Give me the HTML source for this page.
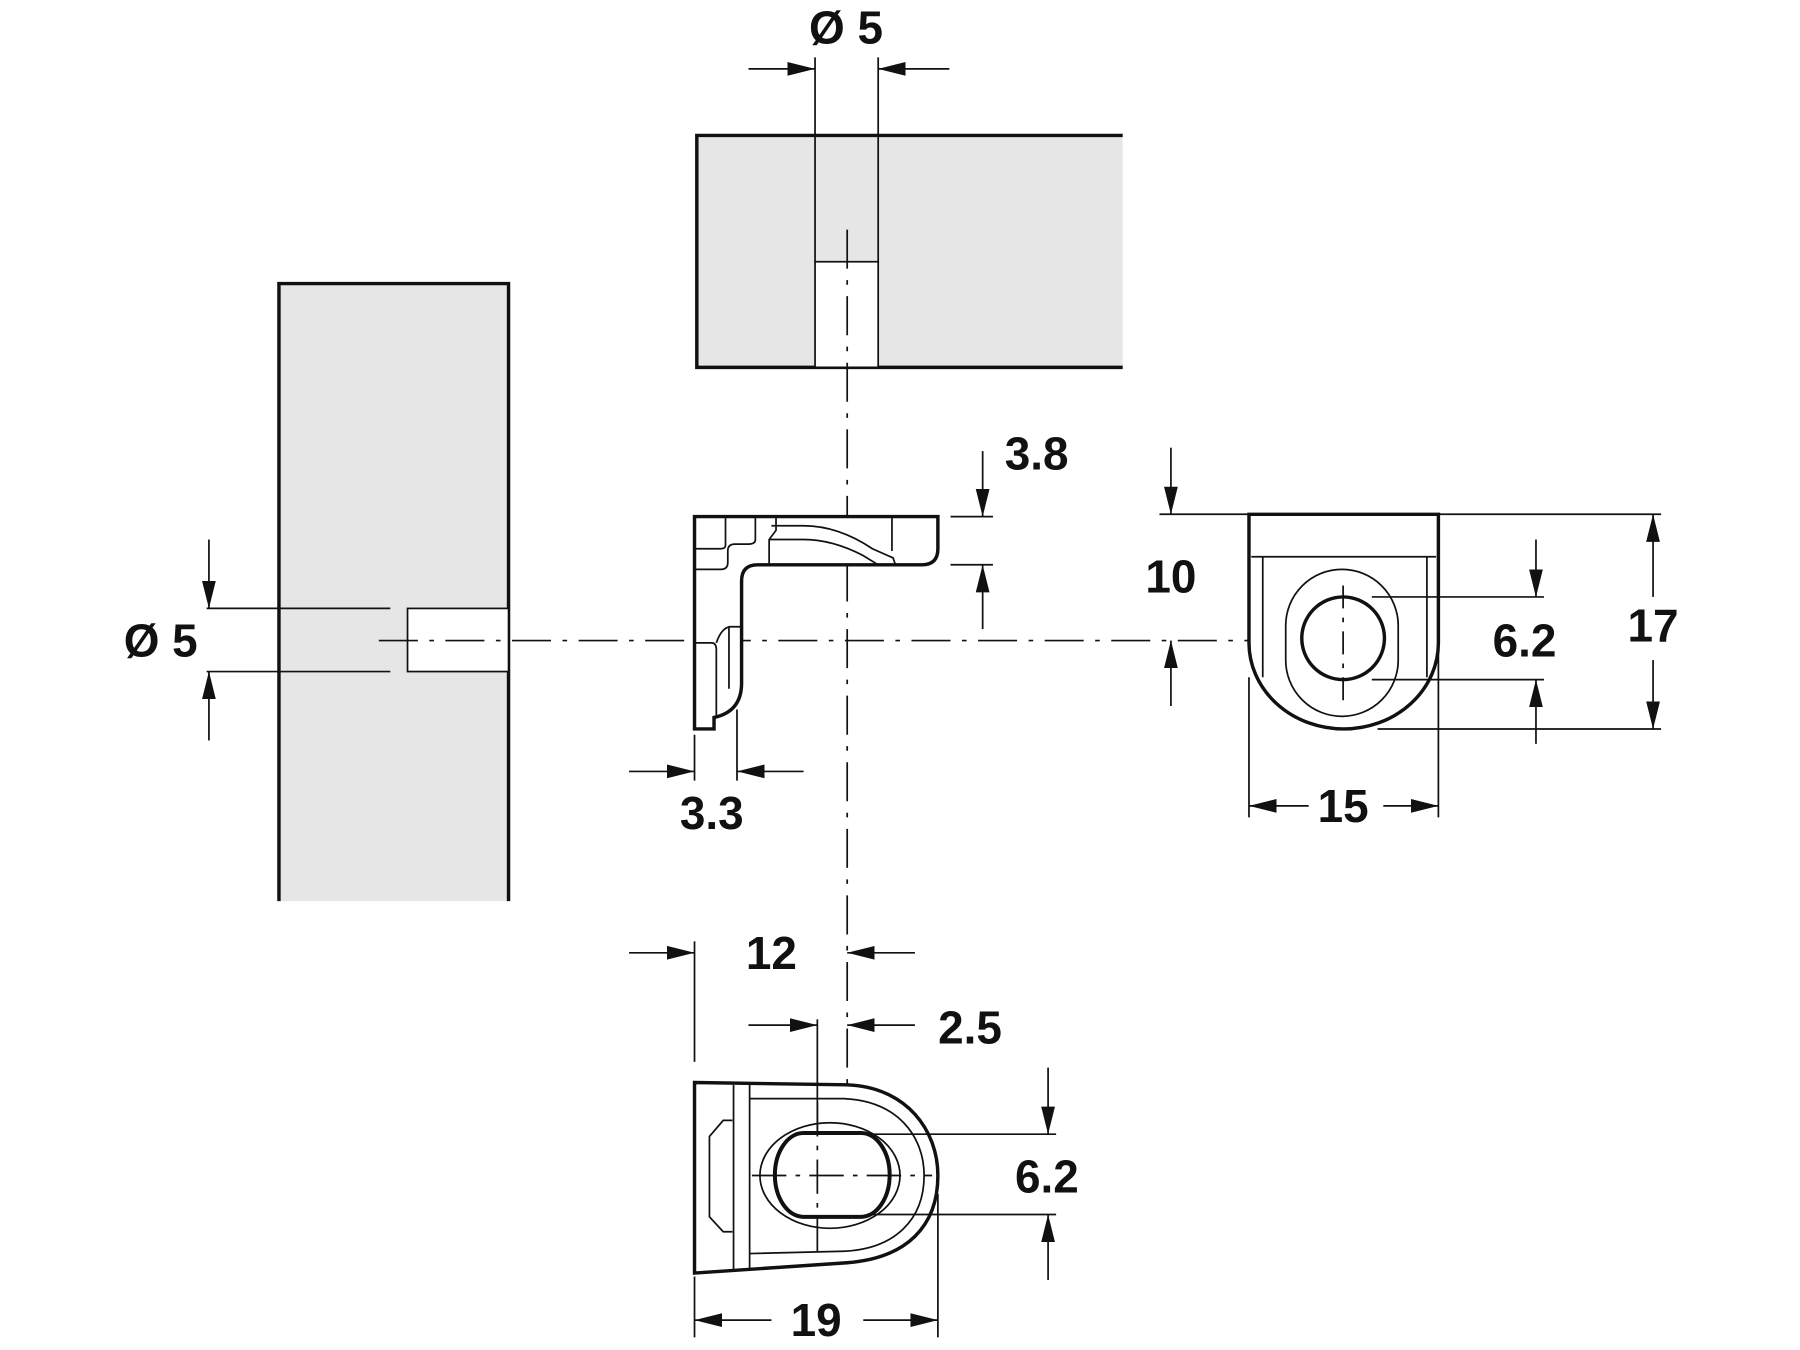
<!DOCTYPE html>
<html><head><meta charset="utf-8"><style>
html,body{margin:0;padding:0;background:#fff}
svg{display:block}
text{font-family:"Liberation Sans",Arial,sans-serif;font-weight:bold;font-size:40px;fill:#111}
</style></head><body>
<svg width="1800" height="1350" viewBox="0 0 1568 1176" xmlns="http://www.w3.org/2000/svg">
<defs>
<marker id="a" viewBox="0 0 24 16" refX="24" refY="8" markerWidth="24" markerHeight="16" markerUnits="userSpaceOnUse" orient="auto">
<path d="M0,2 L24,8 L0,14 Z" fill="#111"/></marker>
</defs>
<g stroke="#111" fill="none">
<!-- left panel -->
<rect x="243" y="247" width="200" height="538" fill="#e6e6e6" stroke="none"/>
<path d="M243,785 V247 H443 V785" stroke-width="3"/>
<rect x="355" y="530" width="88" height="55" fill="#fff" stroke-width="1.5"/>
<path d="M180,530 H340 M180,585 H340" stroke-width="1.5"/>
<g stroke-width="1.5" marker-end="url(#a)">
<path d="M182,470 V530"/><path d="M182,645 V585"/>
</g>
<!-- top panel -->
<rect x="607" y="118" width="371" height="202" fill="#e6e6e6" stroke="none"/>
<path d="M978,118 H607 V320 H978" stroke-width="3"/>
<rect x="710" y="228" width="55" height="92" fill="#fff" stroke-width="1.5"/>
<path d="M710,50 V228 M765,50 V228" stroke-width="1.5"/>
<g stroke-width="1.5" marker-end="url(#a)">
<path d="M652,60 H710"/><path d="M827,60 H765"/>
</g>
<!-- centerlines -->
<path d="M330,558 H1230" stroke-width="1.5" stroke-dasharray="34,10,4,10"/>
<path d="M738,200 V960" stroke-width="1.5" stroke-dasharray="34,10,4,10"/>
<!-- bracket side view -->
<path d="M605,450 H817 V478 Q817,492 803,492 H660 Q646,492 646,506 V595 Q646,620 622,625 V635 H605 Z" stroke-width="3" fill="#fff"/>
<path d="M632,450 V475 Q632,478 628,478 H605 M658,450 V470 Q658,474 652,474 H640 Q634,474 634,480 V490 Q634,496 628,496 H605" stroke-width="1.5"/>
<path d="M605,560 H620 Q624,560 624,566 V625 M624,560 Q628,548 635,546 H646 M635,546 V600" stroke-width="1.5"/>
<path d="M676,450 V462 L670,470 V492 M672,458 H700 Q730,458 760,478 L778,486 L780,492 M670,470 H700 Q725,470 752,484 L765,492" stroke-width="1.5"/>
<path d="M777,450 V480" stroke-width="1.5"/>
<!-- 3.8 -->
<path d="M828,450 H865 M828,492 H865" stroke-width="1.5"/>
<g stroke-width="1.5" marker-end="url(#a)">
<path d="M856,393 V450"/><path d="M856,548 V492"/>
</g>
<!-- 3.3 -->
<path d="M605,640 V680 M642,618 V680" stroke-width="1.5"/>
<g stroke-width="1.5" marker-end="url(#a)">
<path d="M548,672 H605"/><path d="M700,672 H642"/>
</g>
<!-- front view -->
<path d="M1088,448 H1253 V560 A82.5,75 0 0 1 1088,560 Z" stroke-width="3" fill="#fff"/>
<path d="M1090,485 H1251 M1100,485 V590 M1243,485 V590" stroke-width="1.5"/>
<path d="M1120,545 A49,49 0 0 1 1218,545 V575 A49,49 0 0 1 1120,575 Z" stroke-width="1.5"/>
<circle cx="1170" cy="556" r="36" stroke-width="3" fill="#fff"/>
<path d="M1170,510 V610" stroke-width="1.5" stroke-dasharray="20,8,4,8"/>
<!-- 17 -->
<path d="M1253,448 H1447 M1200,635 H1447" stroke-width="1.5"/>
<g stroke-width="1.5" marker-end="url(#a)">
<path d="M1440,520 V448"/><path d="M1440,575 V635"/>
</g>
<!-- 6.2 front -->
<path d="M1195,520 H1345 M1195,592 H1345" stroke-width="1.5"/>
<g stroke-width="1.5" marker-end="url(#a)">
<path d="M1338,470 V520"/><path d="M1338,648 V592"/>
</g>
<!-- 10 -->
<path d="M1010,448 H1088" stroke-width="1.5"/>
<g stroke-width="1.5" marker-end="url(#a)">
<path d="M1020,390 V448"/><path d="M1020,615 V558"/>
</g>
<!-- 15 -->
<path d="M1088,590 V712 M1253,490 V712" stroke-width="1.5"/>
<g stroke-width="1.5" marker-end="url(#a)">
<path d="M1140,702 H1088"/><path d="M1205,702 H1253"/>
</g>
<!-- bottom view -->
<path d="M605,943 L738,945 C790,947 817,985 817,1024 C817,1068 790,1096 738,1100 L605,1109 Z" stroke-width="3" fill="#fff"/>
<path d="M653,957 H735 C782,959 805,990 805,1024 C805,1062 780,1088 735,1090 L653,1092 M639,945 V1107 M653,945 V1106" stroke-width="1.5"/>
<path d="M638,976 H630 L618,990 V1060 L630,1073 H638" stroke-width="1.5"/>
<ellipse cx="723" cy="1024" rx="61" ry="46" stroke-width="1.5" fill="#fff"/>
<path d="M700,987 H750 A25,36.5 0 0 1 750,1060 H700 A25,36.5 0 0 1 700,987 Z" stroke-width="3.5" fill="#fff"/>
<path d="M655,1024 H812" stroke-width="1.5" stroke-dasharray="30,8,4,8"/>
<path d="M712,960 V1090" stroke-width="1.5" stroke-dasharray="30,8,4,8"/>
<!-- 12 -->
<path d="M605,820 V925" stroke-width="1.5"/>
<g stroke-width="1.5" marker-end="url(#a)">
<path d="M548,830 H605"/><path d="M797,830 H738"/>
</g>
<!-- 2.5 -->
<path d="M712,888 V985" stroke-width="1.5"/>
<g stroke-width="1.5" marker-end="url(#a)">
<path d="M652,893 H712"/><path d="M797,893 H738"/>
</g>
<!-- 6.2 bottom -->
<path d="M760,988 H920 M760,1058 H920" stroke-width="1.5"/>
<g stroke-width="1.5" marker-end="url(#a)">
<path d="M913,930 V988"/><path d="M913,1115 V1058"/>
</g>
<!-- 19 -->
<path d="M605,1112 V1165 M817,1040 V1165" stroke-width="1.5"/>
<g stroke-width="1.5" marker-end="url(#a)">
<path d="M672,1150 H605"/><path d="M752,1150 H817"/>
</g>
</g>
<g>
<text x="140" y="572" text-anchor="middle">Ø 5</text>
<text x="737" y="38" text-anchor="middle">Ø 5</text>
<text x="903" y="409" text-anchor="middle">3.8</text>
<text x="620" y="722" text-anchor="middle">3.3</text>
<text x="1020" y="516" text-anchor="middle">10</text>
<text x="1328" y="572" text-anchor="middle">6.2</text>
<text x="1440" y="559" text-anchor="middle">17</text>
<text x="1170" y="716" text-anchor="middle">15</text>
<text x="672" y="844" text-anchor="middle">12</text>
<text x="845" y="909" text-anchor="middle">2.5</text>
<text x="912" y="1039" text-anchor="middle">6.2</text>
<text x="711" y="1164" text-anchor="middle">19</text>
</g>
</svg>
</body></html>
